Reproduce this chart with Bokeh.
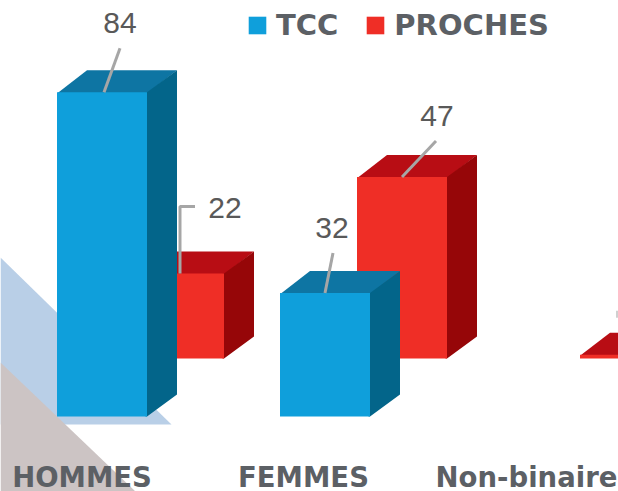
from bokeh.plotting import figure
from bokeh.models import Range1d, Legend, LegendItem
from bokeh.core.properties import value as val
from bokeh.embed import file_html
from bokeh.resources import INLINE

categories = ["HOMMES", "FEMMES", "Non-binaire"]
tcc = [84, 32, 0]
proches = [22, 47, 1]
tcc_labels = ["84", "32", ""]
proches_labels = ["22", "47", ""]

W, H = 618, 491
UX = 223.0      # px per category
UY = 3.86       # px per value unit
X0 = 101.5      # screen x of first category
Y0 = 416.0      # screen y of value 0

x0 = -X0 / UX
y1 = Y0 / UY
p = figure(width=W, height=H, output_backend="svg", toolbar_location=None,
           x_range=Range1d(x0, x0 + W / UX), y_range=Range1d(y1 - H / UY, y1),
           min_border=0, outline_line_color=None, background_fill_color="white")
p.xaxis.visible = False
p.yaxis.visible = False
p.grid.visible = False


def sx(px):
    return (px - X0) / UX


def sy(px):
    return (Y0 - px) / UY


DX, DY = 30 / UX, 22 / UY       # depth of a bar
RX, RY = 77 / UX, 58 / UY       # offset of the back row
BW = 90 / UX
SEAM = 1.5 / UX                 # side face tucked under the front face

# decorative triangles
p.patch([sx(0), sx(171), sx(0)], [sy(257), sy(424), sy(424)], fill_color="#B9CFE7", line_color=None)
p.patch([sx(0), sx(135), sx(0)], [sy(362), sy(491), sy(491)], fill_color="#CCC4C4", line_color=None)


def bars(xs, vals, ox, oy, front, top, side):
    keep = [(x, v) for x, v in zip(xs, vals) if v > 0]
    lft = [x + ox - BW / 2 for x, v in keep]
    rgt = [x + ox + BW / 2 for x, v in keep]
    btm = [oy for x, v in keep]
    tp = [v + oy for x, v in keep]
    p.patches([[l, l + DX, r + DX, r] for l, r in zip(lft, rgt)],
              [[t - 0.3, t + DY, t + DY, t - 0.3] for t in tp], fill_color=top, line_color=None)
    p.patches([[r - SEAM, r, r + DX, r + DX, r, r - SEAM] for r in rgt],
              [[b, b, b + DY, t + DY, t, t] for b, t in zip(btm, tp)], fill_color=side, line_color=None)
    return p.quad(left=lft, right=rgt, bottom=btm, top=tp, fill_color=front, line_color=None)


idx = list(range(len(categories)))
r_red = bars(idx, proches, RX, RY, "#EF2E26", "#B80D14", "#960608")
r_blue = bars(idx, tcc, 0, 0, "#0F9FDB", "#0E75A3", "#03658A")

# leader lines
GREY = "#A6A6A6"
def leader(i, v, ox, oy, pts, color=GREY, width=3):
    xs = [i + ox + a / UX for a, b in pts]
    ys = [v + oy + b / UY for a, b in pts]
    p.line(xs, ys, line_color=color, line_width=width)


leader(0, tcc[0], 0, 0, [(2, 0), (18, 44)])
leader(1, tcc[1], 0, 0, [(0, 0), (8, 40)])
leader(0, proches[0], RX, RY, [(1, 0), (1, 67), (16, 67)])
leader(1, proches[1], RX, RY, [(0, 0), (34, 36)])
leader(2, proches[2], RX, RY, [(-8, 37), (-8, 44)], "#D0D0D0", 2)

# value labels
LBL = "#595959"
p.text([0 + 18 / UX, 1 + 7 / UX], [tcc[0] + 69 / UY, tcc[1] + 65 / UY], text=tcc_labels[:2],
       text_font=val("Liberation Sans"), text_font_size="30px", text_color=LBL,
       text_align="center", text_baseline="middle")
p.text([0 + RX + 46 / UX, 1 + RX + 35 / UX],
       [proches[0] + RY + 66 / UY, proches[1] + RY + 61 / UY], text=proches_labels[:2],
       text_font=val("Liberation Sans"), text_font_size="30px", text_color=LBL,
       text_align="center", text_baseline="middle")

# category labels
p.text([sx(81.5), sx(303), sx(526)], [sy(476)] * 3, text=categories,
       text_font=val("DejaVu Sans"), text_font_size="27.5px", text_font_style="bold",
       text_color="#5C6065", text_align="center", text_baseline="middle")

legend = Legend(items=[LegendItem(label="TCC", renderers=[r_blue]),
                       LegendItem(label="PROCHES", renderers=[r_red])],
                orientation="horizontal", location=(246, 449),
                background_fill_alpha=0, border_line_color=None,
                glyph_width=22, glyph_height=22, spacing=26, label_standoff=8,
                margin=0, padding=0,
                label_text_font="DejaVu Sans", label_text_font_size="29px",
                label_text_font_style="bold", label_text_color="#5C6065")
p.add_layout(legend)

open("out.html", "w").write(file_html(p, INLINE))
